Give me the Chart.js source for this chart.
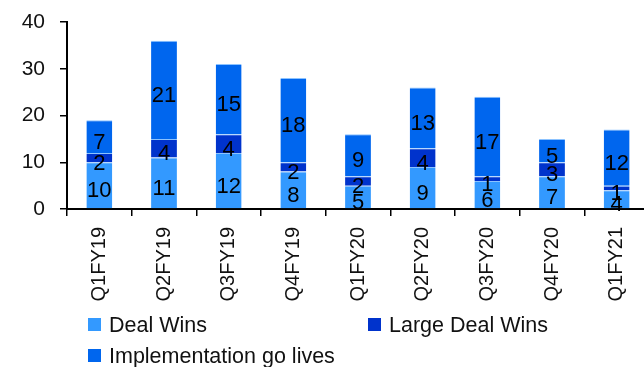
<!DOCTYPE html>
<html>
<head>
<meta charset="utf-8">
<script src="https://cdn.jsdelivr.net/npm/chart.js@4.4.1/dist/chart.umd.min.js"></script>
<style>
  html, body { margin: 0; padding: 0; background: #fff; overflow: hidden; }
  #wrap { position: relative; width: 644px; height: 367px; overflow: hidden; }
  #wrap canvas { position: absolute; left: 0; top: 0; }
  .legend-box { position: absolute; width: 13px; height: 13px; }
  .legend-text { position: absolute; font-family: "Liberation Sans", Arial, sans-serif; font-size: 21.5px; color: #111; line-height: 1; white-space: nowrap; }
</style>
</head>
<body>
<div id="wrap">
  <canvas id="chart" width="649" height="367"></canvas>
</div>
<script>
const quarters = ['Q1FY19', 'Q2FY19', 'Q3FY19', 'Q4FY19', 'Q1FY20', 'Q2FY20', 'Q3FY20', 'Q4FY20', 'Q1FY21'];
const dealWins = [10, 11, 12, 8, 5, 9, 6, 7, 4];
const largeDealWins = [2, 4, 4, 2, 2, 4, 1, 3, 1];
const goLives = [7, 21, 15, 18, 9, 13, 17, 5, 12];
const yTicks = [0, 10, 20, 30, 40];

const labelFont = '22px "Liberation Sans", Arial, sans-serif';

// writes the value in each stacked piece, a little below its middle
const segmentLabels = {
    id: 'segmentLabels',
    afterDatasetsDraw(chart) {
        const ctx = chart.ctx;
        ctx.save();
        ctx.font = labelFont;
        ctx.fillStyle = '#000';
        ctx.textAlign = 'center';
        ctx.textBaseline = 'alphabetic';
        chart.data.datasets.forEach((ds, i) => {
            chart.getDatasetMeta(i).data.forEach((bar, j) => {
                const mid = (bar.y + bar.base) / 2;
                ctx.fillText(String(ds.data[j]), bar.x, mid + 12);
            });
        });
        ctx.restore();
    }
};

const ctx = document.getElementById('chart').getContext('2d');
const chart = new Chart(ctx, {
    type: 'bar',
    data: {
        labels: quarters,
        datasets: [
            { label: 'Deal Wins', data: dealWins, backgroundColor: '#3399FF' },
            { label: 'Large Deal Wins', data: largeDealWins, backgroundColor: '#0033CC' },
            { label: 'Implementation go lives', data: goLives, backgroundColor: '#0066EE' }
        ].map(d => Object.assign(d, {
            borderColor: '#8cc3ff',
            borderWidth: { top: 1, left: 0, right: 0, bottom: 0 },
            borderSkipped: 'bottom',
            categoryPercentage: 1,
            barPercentage: 0.4
        }))
    },
    options: {
        responsive: false,
        animation: false,
        layout: { padding: { top: 22, bottom: 48, left: 0, right: 0 } },
        plugins: {
            legend: { display: false },
            tooltip: { enabled: false }
        },
        scales: {
            x: {
                stacked: true,
                grid: { drawOnChartArea: false, offset: true, tickLength: 7, color: '#000', lineWidth: 1.5 },
                border: { color: '#000', width: 2 },
                ticks: { maxRotation: 90, minRotation: 90, padding: 11, color: '#111', font: { family: '"Liberation Sans", Arial, sans-serif', size: 20 } },
                afterFit(s) { s.height = 110; s.paddingLeft = 0; s.paddingRight = 0; }
            },
            y: {
                stacked: true,
                min: 0,
                max: 40,
                grid: { drawOnChartArea: false, tickLength: 7, color: '#000', lineWidth: 1.5 },
                border: { color: '#000', width: 2 },
                ticks: {
                    stepSize: 10,
                    padding: 15,
                    color: '#111',
                    font: { family: '"Liberation Sans", Arial, sans-serif', size: 21 }
                },
                afterBuildTicks(s) { s.ticks = yTicks.map(v => ({ value: v })); },
                afterFit(s) { s.width = 67; s.paddingTop = 0; s.paddingBottom = 0; }
            }
        }
    },
    plugins: [segmentLabels]
});

// legend in two columns, like the original
const legendPos = [[88, 318], [368, 318], [88, 349]];
const wrap = document.getElementById('wrap');
chart.data.datasets.forEach((ds, i) => {
    const box = document.createElement('div');
    box.className = 'legend-box';
    box.style.left = legendPos[i][0] + 'px';
    box.style.top = legendPos[i][1] + 'px';
    box.style.background = ds.backgroundColor;
    wrap.appendChild(box);

    const txt = document.createElement('div');
    txt.className = 'legend-text';
    txt.style.left = (legendPos[i][0] + 21) + 'px';
    txt.style.top = (legendPos[i][1] - 3) + 'px';
    txt.textContent = ds.label;
    wrap.appendChild(txt);
});
</script>
</body>
</html>
